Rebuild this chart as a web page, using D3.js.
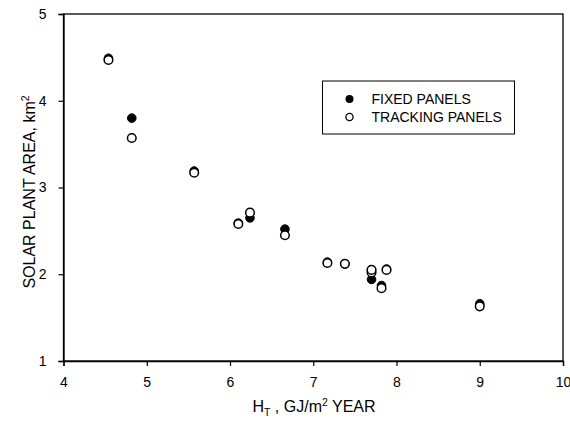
<!DOCTYPE html>
<html>
<head>
<meta charset="utf-8">
<script src="https://cdn.jsdelivr.net/npm/d3@7"></script>
<style>
body { margin: 0; background: #fff; }
svg { display: block; font-family: "Liberation Sans", Arial, sans-serif; }
</style>
</head>
<body>
<svg id="chart" width="570" height="426"></svg>
<script>
// Data
const ht = [4.54, 4.82, 5.57, 6.10, 6.24, 6.66, 7.17, 7.38, 7.70, 7.70, 7.82, 7.88, 9.00];
const fixedPanels = [4.49, 3.80, 3.19, 2.59, 2.65, 2.52, 2.14, 2.12, 1.94, 2.05, 1.87, 2.06, 1.66];
const trackingPanels = [4.47, 3.57, 3.17, 2.58, 2.71, 2.45, 2.13, 2.12, 2.02, 2.05, 1.84, 2.05, 1.63];
const xTicks = [4, 5, 6, 7, 8, 9, 10];
const yTicks = [1, 2, 3, 4, 5];
const legendLabels = ["FIXED PANELS", "TRACKING PANELS"];

const svg = d3.select("#chart");
const m = { left: 63.5, right: 563, top: 14, bottom: 361 };
const x = d3.scaleLinear().domain([4, 10]).range([m.left, m.right]);
const y = d3.scaleLinear().domain([1, 5]).range([m.bottom, m.top]);

// frame
svg.append("rect")
  .attr("x", m.left).attr("y", m.top)
  .attr("width", m.right - m.left).attr("height", m.bottom - m.top)
  .attr("fill", "none").attr("stroke", "#000").attr("stroke-width", 1.3);

const xAxis = svg.append("g").attr("transform", `translate(0,${m.bottom})`)
  .call(d3.axisBottom(x).tickValues(xTicks).tickSize(5).tickPadding(11).tickFormat(d3.format("d")));
const yAxis = svg.append("g").attr("transform", `translate(${m.left},0)`)
  .call(d3.axisLeft(y).tickValues(yTicks).tickSize(5).tickPadding(12).tickFormat(d3.format("d")));
[xAxis, yAxis].forEach(a => {
  a.select(".domain").attr("stroke-width", 1.3);
  a.selectAll(".tick line").attr("stroke-width", 1.2);
  a.selectAll("text").attr("font-size", 14).attr("fill", "#000")
    .attr("font-family", "'Liberation Sans', Arial, sans-serif");
});

const r = 4.3;
const pts = ht.map((h, i) => ({ h, f: fixedPanels[i], t: trackingPanels[i] }));
svg.append("g").selectAll("circle").data(pts).join("circle")
  .attr("cx", d => x(d.h)).attr("cy", d => y(d.f)).attr("r", r)
  .attr("fill", "#000").attr("stroke", "#000").attr("stroke-width", 1);
svg.append("g").selectAll("circle").data(pts).join("circle")
  .attr("cx", d => x(d.h)).attr("cy", d => y(d.t)).attr("r", r)
  .attr("fill", "#fff").attr("stroke", "#000").attr("stroke-width", 1.5);

// legend
const lg = svg.append("g");
lg.append("rect").attr("x", 322.5).attr("y", 81).attr("width", 192).attr("height", 53)
  .attr("fill", "#fff").attr("stroke", "#000").attr("stroke-width", 1);
lg.append("circle").attr("cx", 349.5).attr("cy", 99).attr("r", 4).attr("fill", "#000");
lg.append("circle").attr("cx", 349.5).attr("cy", 117).attr("r", 3.6)
  .attr("fill", "#fff").attr("stroke", "#000").attr("stroke-width", 1.3);
lg.selectAll("text.lab").data(legendLabels).join("text")
  .attr("x", 371.5).attr("y", (d, i) => 104 + i * 18)
  .attr("font-size", 14).text(d => d);

// axis titles
const xt = svg.append("text").attr("x", 314).attr("y", 412).attr("text-anchor", "middle")
  .attr("font-size", 16);
xt.append("tspan").text("H");
xt.append("tspan").attr("font-size", 10.5).attr("dy", 4).text("T");
xt.append("tspan").attr("dy", -4).text(" , GJ/m");
xt.append("tspan").attr("font-size", 10.5).attr("dy", -6).text("2");
xt.append("tspan").attr("dy", 6).text(" YEAR");

const yt = svg.append("text").attr("transform", "translate(35,192) rotate(-90)")
  .attr("text-anchor", "middle").attr("font-size", 16);
yt.append("tspan").text("SOLAR PLANT AREA, km");
yt.append("tspan").attr("font-size", 10.5).attr("dy", -6).text("2");
</script>
</body>
</html>
